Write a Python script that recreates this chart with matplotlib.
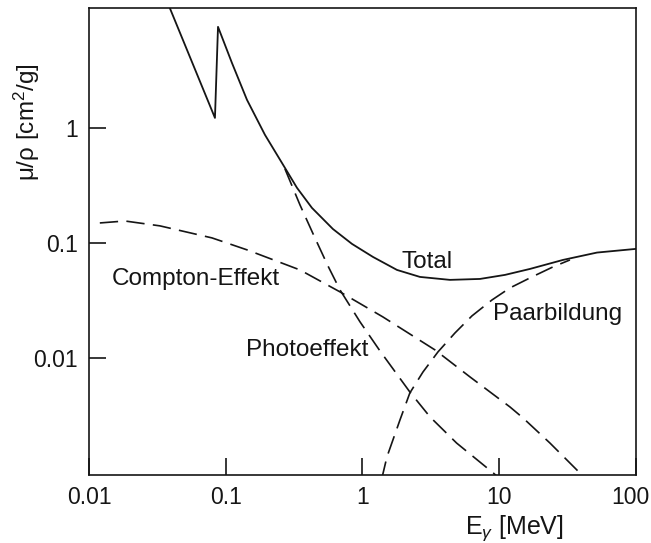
import matplotlib
matplotlib.use("Agg")
from matplotlib import pyplot as plt
from matplotlib.transforms import ScaledTranslation

plt.rcParams['font.family'] = ['Liberation Sans', 'DejaVu Sans']
plt.rcParams['mathtext.fontset'] = 'custom'
plt.rcParams['mathtext.rm'] = 'Liberation Sans'
plt.rcParams['mathtext.it'] = 'Liberation Sans:italic'

# photon energy [MeV] and mass attenuation [cm^2/g]
total_e = [0.036, 0.039, 0.0834, 0.0878, 0.111, 0.143, 0.1936, 0.271, 0.332, 0.427, 0.608,
           0.838, 1.193, 1.788, 2.633, 4.364, 7.233, 11.02, 16.8, 29.25, 51.9, 100]
total_mu = [14.1, 11.0, 1.22, 7.55, 3.67, 1.752, 0.869, 0.449, 0.301, 0.2015, 0.132,
            0.098, 0.0755, 0.0582, 0.0506, 0.0477, 0.0486, 0.0527, 0.0594, 0.0711, 0.0824, 0.0887]

photo_e = [0.271, 0.349, 0.449, 0.559, 0.685, 0.959, 1.343, 2.22, 3.12, 4.88, 9.05, 10.1]
photo_mu = [0.44, 0.214, 0.1105, 0.0631, 0.039, 0.0206, 0.0115, 0.00506, 0.00307, 0.00182, 0.0010, 0.00089]

compton_e = [0.012, 0.0183, 0.033, 0.0793, 0.143, 0.349, 0.685, 1.412, 3.39, 6.11, 11.98, 14.92, 23.5, 38.9, 42.4]
compton_mu = [0.149, 0.155, 0.1406, 0.1105, 0.087, 0.0582, 0.0375, 0.0227, 0.01174, 0.00684, 0.00375, 0.00301, 0.00182, 0.0010, 0.00089]

pair_e = [1.38, 1.51, 1.88, 2.22, 2.77, 3.565, 4.75, 6.32, 8.85, 11.98, 17.36, 24.7, 32.9]
pair_mu = [0.00088, 0.00138, 0.00289, 0.00496, 0.00755, 0.01128, 0.0165, 0.0232, 0.0319, 0.0406, 0.0506, 0.0618, 0.0711]

xticks = [0.01, 0.1, 1, 10, 100]
xlabels = ['0.01', '0.1', '1', '10', '100']
yticks = [0.01, 0.1, 1]
ylabels = ['0.01', '0.1', '1']

ink = '#151515'
fig = plt.figure(figsize=(6.51, 5.43), dpi=100)
ax = fig.add_axes([0.1367, 0.1252, 0.8402, 0.8600])

ax.plot(total_e, total_mu, color=ink, lw=1.3)
dash = (11, 5)
ax.plot(photo_e, photo_mu, color=ink, lw=1.2, dashes=dash)
ax.plot(compton_e, compton_mu, color=ink, lw=1.2, dashes=dash)
ax.plot(pair_e, pair_mu, color=ink, lw=1.2, dashes=dash)

ax.set_xscale('log')
ax.set_yscale('log')
ax.set_xlim(0.01, 100)
ax.set_ylim(0.00096, 11)
ax.set_xticks(xticks)
ax.set_xticklabels(xlabels)
ax.set_yticks(yticks)
ax.set_yticklabels(ylabels)
ax.minorticks_off()
ax.tick_params(direction='in', length=12, width=1.2, pad=8, labelsize=16.5, colors=ink)
for s in ax.spines.values():
    s.set_linewidth(1.2)
    s.set_color(ink)

# last x label sits a bit left of its tick in the original
lab = ax.get_xticklabels()[-1]
lab.set_transform(lab.get_transform() + ScaledTranslation(-6 / 100, 0, fig.dpi_scale_trans))

fs = 17.5
ax.text(2.97, 0.0684, 'Total', fontsize=fs, ha='center', va='center', color=ink)
ax.text(0.0606, 0.0486, 'Compton-Effekt', fontsize=fs, ha='center', va='center', color=ink)
ax.text(0.393, 0.01174, 'Photoeffekt', fontsize=fs, ha='center', va='center', color=ink)
ax.text(26.9, 0.0241, 'Paarbildung', fontsize=fs, ha='center', va='center', color=ink)

fig.text(514 / 651, 1 - 534 / 543, r'E$_{\gamma}$ [MeV]', fontsize=18, ha='center', va='baseline', color=ink)
fig.text(27 / 651, 1 - 122 / 543, 'μ/ρ [cm$^2$/g]', fontsize=fs, ha='center', va='center',
         rotation=90, color=ink)

fig.savefig('out.png', dpi=100)
